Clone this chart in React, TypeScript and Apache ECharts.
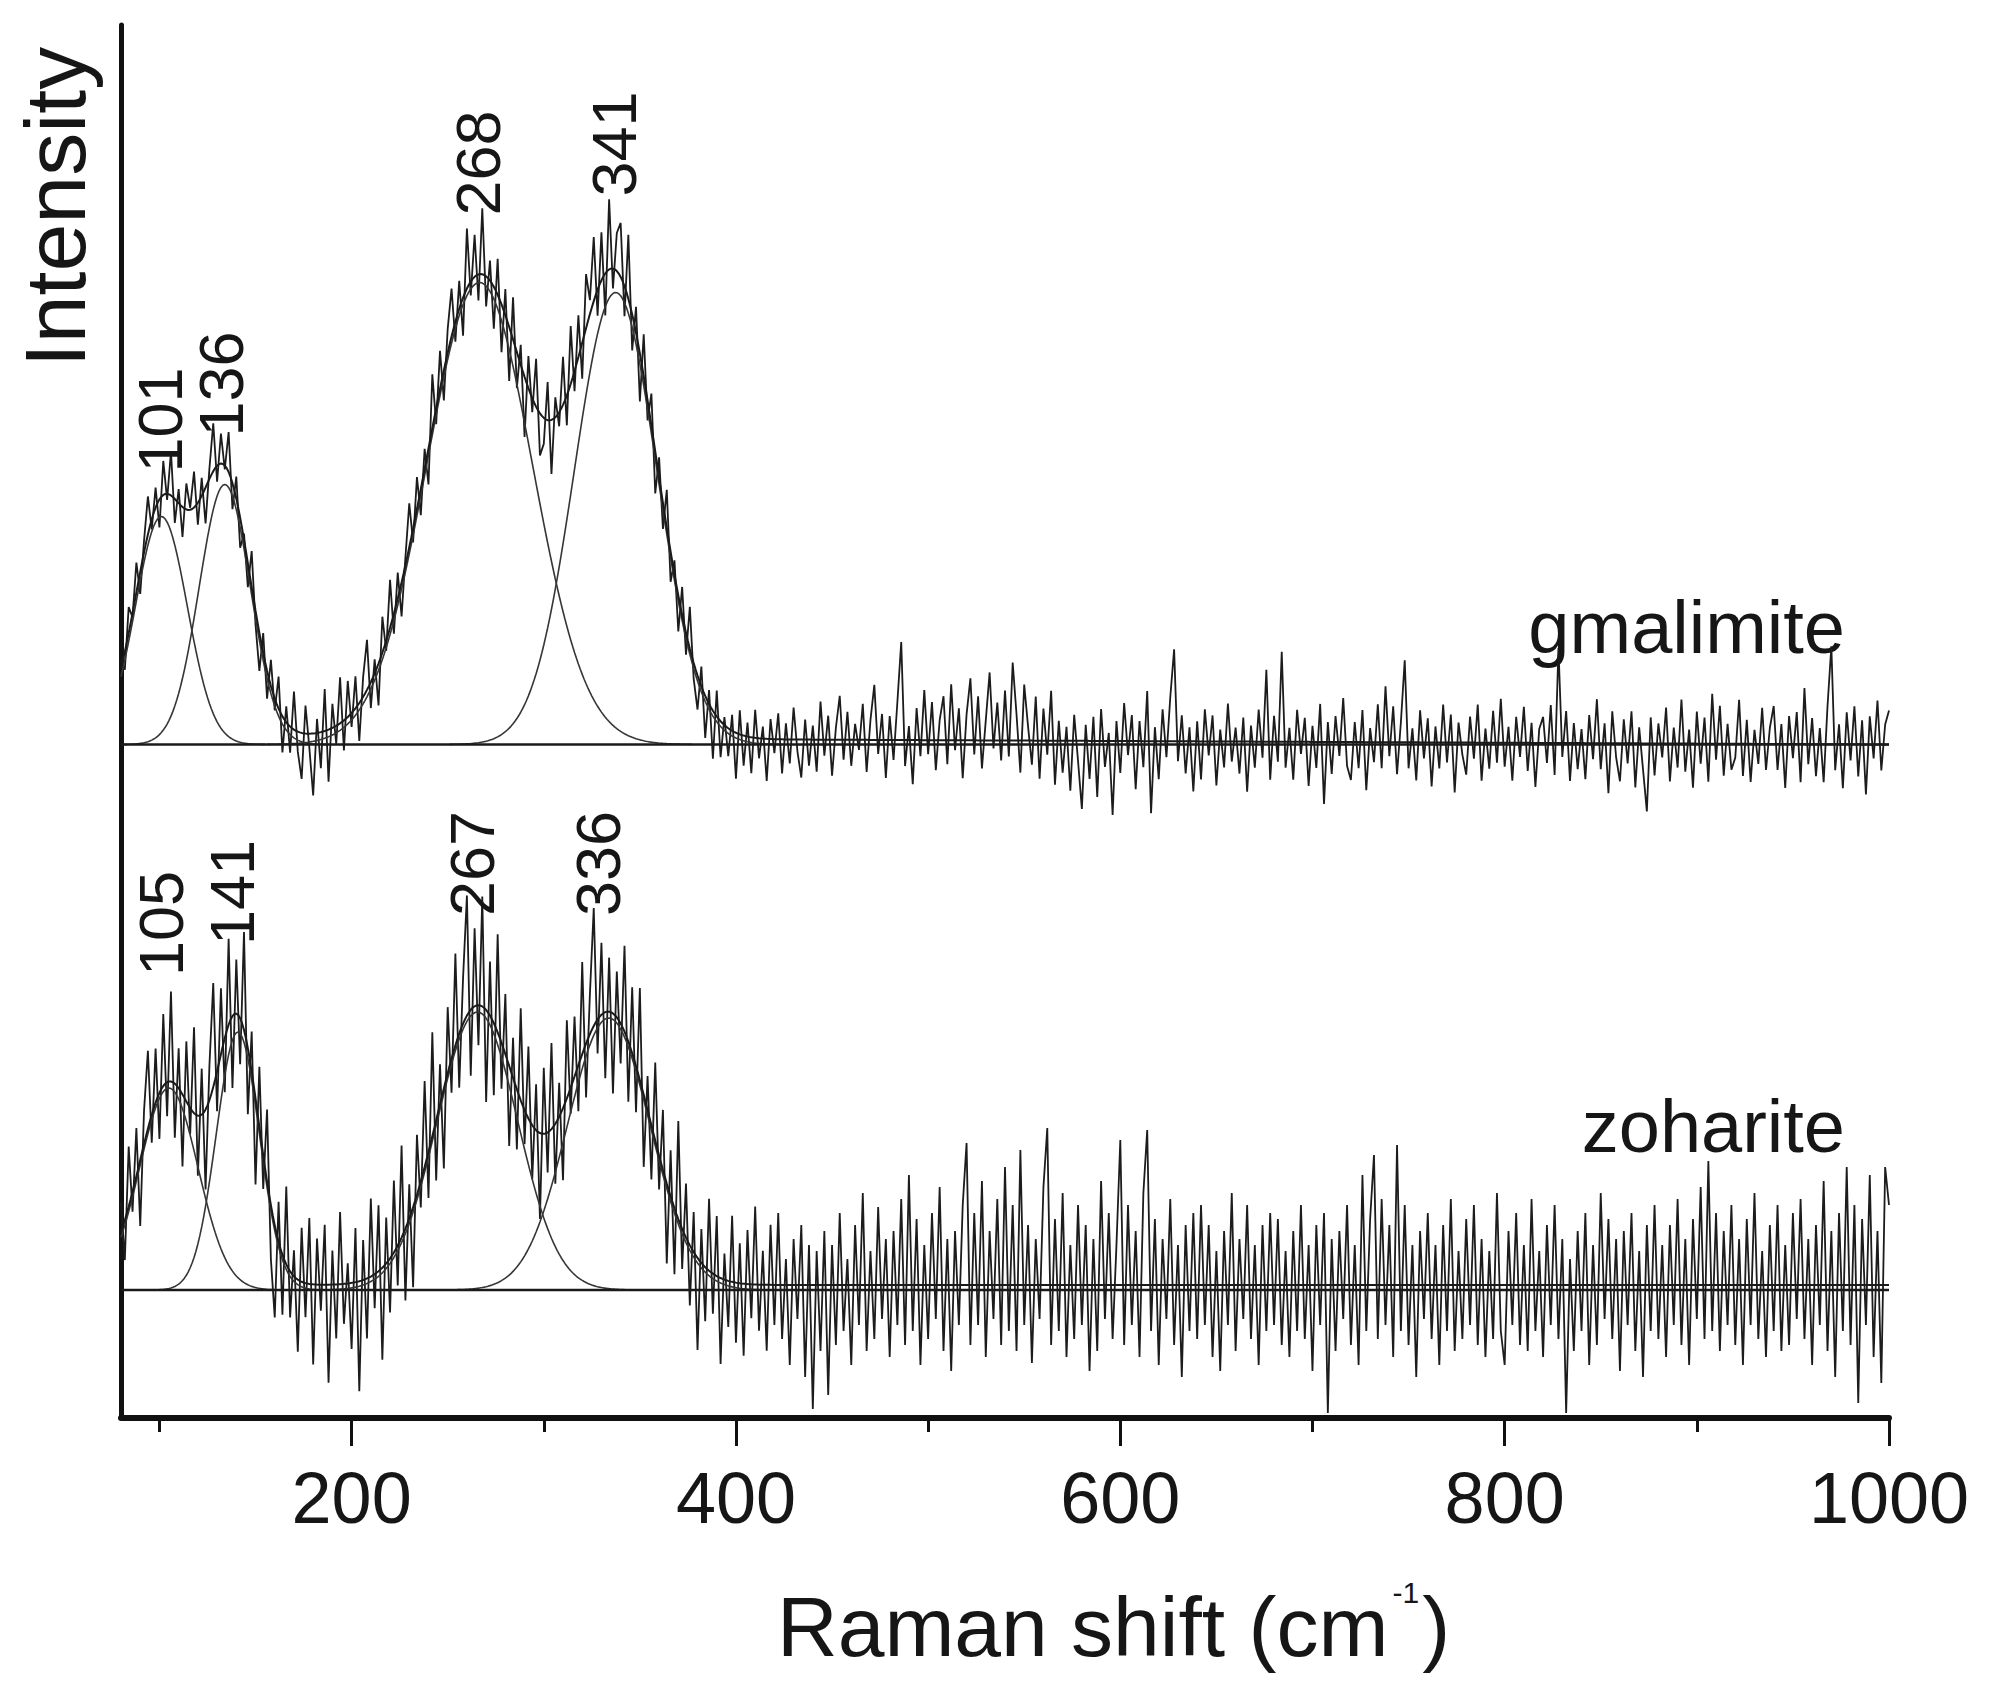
import React, { useEffect, useRef } from 'react';
import * as echarts from 'echarts';

// ---------- data ----------
const X_START = 80;
const X_END = 1000;
const RAW_STEP = 2;

const majorTickValues = [200, 400, 600, 800, 1000];
const minorTickValues = [100, 300, 500, 700, 900];

// gmalimite (upper spectrum): fitted Gaussian components
const gmalimiteCenters = [101, 134, 266.6, 337.4];
const gmalimiteAmplitudes = [228, 260, 462, 452];
const gmalimiteWidths = [13.5, 13.3, 27.5, 21.5];
const gmalimiteFitBaseline = [8, 0]; // at X_START, at X_END
const gmalimitePeakLabels = ['101', '136', '268', '341'];
const gmalimiteLabelX = [100.5, 132, 266, 336.3];
const gmalimiteLabelY = [272, 308, 529, 548];
// residual of measured spectrum around the cumulative fit, every 2 cm-1 from 80
const gmalimiteNoise = [
  8, -18, 26, -4, 30, -22, 12, 38, -10, 20,
  -28, 34, -6, 44, -24, 14, -30, 26, 2, 36,
  -22, 18, -36, 10, 48, -16, 30, -4, 40, -26,
  22, -30, 6, -24, 36, -14, -38, 20, -28, 26,
  -12, 32, -36, 16, -26, 38, -20, -46, 28, -14,
  -62, 14, -36, 42, -52, 24, -18, 46, -30, 36,
  -14, 32, -38, 20, 50, -26, 14, -42, 36, -10,
  48, -20, 26, -34, 8, 44, -14, 32, -26, 20,
  -36, 54, -16, 38, -30, 24, 48, -20, 28, -38,
  60, -14, 42, -26, 66, -30, 20, -42, 36, -48,
  26, -54, 42, -36, 20, -60, 32, -14, 48, -42,
  -26, 38, -54, 20, -14, 48, -30, 58, -20, 42,
  -36, 54, 14, 64, -26, 48, -42, 70, -20, 38,
  54, -30, 64, -36, 26, -48, 42, -20, 32, -42,
  20, -26, 38, -30, 14, -36, 28, -22, 42, -16,
  -34, 20, -42, 14, -48, 26, -36, 8, -28, 16,
  -46, 24, -30, 14, -36, 28, -20, 12, -42, 20,
  -14, 26, -34, 16, -24, 32, -12, -38, 20, -26,
  14, -32, 38, -16, 24, -36, 12, 44, -20, 28,
  -26, 16, -10, 36, -32, 20, 55, -14, 26, -38,
  24, -20, 38, 98, -26, 14, -44, 32, -16, 50,
  -14, 38, -30, 20, 44, -24, 56, -10, 32, -38,
  26, 62, -14, 44, -28, 20, 68, -8, 38, -20,
  50, -16, 78, 26, -32, 56, 14, -24, 44, -38,
  32, -14, 50, -44, 20, -32, 14, -50, 26, -20,
  -68, 16, -38, 24, -56, 32, -26, 8, -74, 20,
  -32, 38, -14, 26, -48, 20, -26, 50, -72, 14,
  -38, 32, -16, 44, 92, -20, 26, -32, 14, -50,
  20, -38, 32, -14, 26, -44, 12, -26, 38, -20,
  14, -32, 24, -50, 16, -26, 32, -16, 72, -38,
  26, -20, 90, -26, 14, -38, 32, -12, 24, -44,
  16, -26, 38, -62, 20, -32, 26, -14, 44, -24,
  -38, 20, -26, 32, -48, 14, -20, 38, -26, 56,
  -14, 36, -32, 20, 82, -26, 14, -38, 32, -16,
  24, -44, 16, -26, 38, -20, 28, -50, 20, -12,
  -32, 26, -16, 38, -38, 14, -26, 32, -20, 44,
  -24, 16, -38, 26, -14, 36, -28, 20, -44, 14,
  26, -20, 38, -32, 95, -14, 32, -38, 20, -26,
  14, -36, 28, -16, 44, -26, 20, -50, 32, -14,
  -38, 24, -20, 32, -44, 16, -26, -68, 26, -32,
  20, -14, 36, -38, 16, -24, 44, -28, 14, -44,
  32, -20, 26, -38, 50, -16, 38, -32, 20, -26,
  -14, 44, -32, 24, -38, 14, -20, 36, -26, 16,
  38, -26, 20, -44, 28, -14, 32, -38, 56, -20,
  26, -32, 16, -38, 38, 98, -26, 20, -44, 32,
  -16, 38, -32, 24, -50, 28, -14, 44, -26, 20,
  34,
];

// zoharite (lower spectrum)
const zohariteCenters = [104.9, 140.8, 265.5, 333.8];
const zohariteAmplitudes = [202, 258, 278, 272];
const zohariteWidths = [15.2, 11.2, 21, 21.5];
const zohariteFitBaseline = [5, 5];
const zoharitePeakLabels = ['105', '141', '267', '336'];
const zohariteLabelX = [101, 137.6, 262.4, 328.3];
const zohariteLabelY = [314, 345, 374, 374];
const zohariteNoise = [
  30, -40, 60, -20, 48, -66, 34, 78, -28, 54,
  -46, 72, -34, 90, -54, 40, -72, 60, -26, 86,
  -60, 46, -80, 34, 104, -40, 66, -54, 86, -72,
  54, -46, 98, -66, 40, -86, 60, -34, 72, -54,
  -92, 40, -60, 78, -46, 26, -72, 54, -34, 66,
  -80, 46, -26, 60, -98, 34, -54, 72, -40, 20,
  -66, 54, -110, 40, -60, 78, -34, 66, -92, 46,
  -54, 72, -40, 92, -72, 34, -80, 60, -26, 86,
  -46, 104, -60, 40, -80, 66, -34, 92, -54, 46,
  120, -66, 78, -40, 110, -92, 54, -72, 98, -46,
  60, -80, 40, -60, 92, -34, 72, -54, 46, -86,
  66, -40, 86, -60, 34, -72, 78, -26, 60, -46,
  92, -54, 40, 118, -34, 72, -66, 54, -80, 46,
  -40, 86, -60, 66, -46, 92, -72, 34, -54, 78,
  -34, 60, -80, 46, -66, 98, -40, 54, -60, 40,
  -92, 34, -54, 72, -40, 60, -86, 26, -46, 66,
  -60, 40, -72, 54, -34, 78, -46, 34, -66, 60,
  -40, 72, -54, 26, -80, 46, -34, 60, -92, 40,
  -124, 34, -66, 54, -110, 40, -60, 72, -46, 26,
  -80, 60, -40, 92, -66, 34, -54, 78, -34, 46,
  -72, 54, -40, 86, -60, 110, -46, 66, -80, 40,
  -54, 72, -34, 98, -66, 46, -86, 54, -40, 80,
  142, -60, 72, -40, 104, -72, 54, -34, 86, -60,
  118, -46, 80, -66, 135, -40, 60, -78, 46, -34,
  98, 157, -60, 66, -46, 92, -72, 40, -54, 80,
  -40, 60, -86, 46, -66, 104, -34, 72, -54, 40,
  145, -60, 80, -40, 54, -72, 92, 155, -46, 66,
  -80, 46, -34, 86, -60, 40, -92, 60, -46, 72,
  -54, 80, -40, 60, -72, 34, -86, 54, -40, 92,
  -66, 46, -34, 80, -54, 40, -80, 60, -46, 72,
  -40, 66, -60, 34, -72, 54, -46, 80, -54, 40,
  -86, 60, -40, 72, -128, 46, -66, 54, -34, 80,
  -60, 40, -80, 110, -46, 66, 130, -54, 86, -40,
  60, -72, 140, -46, 80, -60, 40, -92, 54, -34,
  72, -54, 40, -80, 60, -46, 86, -66, 34, -54,
  66, -40, 80, -60, 46, -72, 34, -54, 92, -46,
  -80, 54, -40, 72, -60, 40, -66, 86, -46, 34,
  -72, 60, -40, 80, -54, 46, -128, 26, -66, 54,
  -46, 72, -80, 40, -60, 92, -34, 66, -54, 46,
  -86, 54, -40, 72, -66, 34, -92, 60, -46, 80,
  -54, 40, -72, 60, -40, 86, -60, 46, -80, 66,
  -34, 98, -54, 124, -46, 72, -66, 54, -40, 80,
  -60, 46, -80, 66, -40, 92, -54, 34, -72, 60,
  -46, 80, -66, 40, -60, 72, -34, 86, -54, 46,
  -80, 60, -40, 104, -66, 54, -92, 72, -46, 118,
  -60, 80, -118, 66, -40, 110, -72, 54, -98, 118,
  80,
];

// ---------- helpers ----------
const FONT = '"Liberation Sans", Arial, Helvetica, sans-serif';
const TXT = '#161616';

type Spectrum = {
  centers: number[];
  amps: number[];
  widths: number[];
  fitBase: number[];
  noise: number[];
};

const gauss = (x: number, c: number, a: number, s: number) =>
  a * Math.exp(-((x - c) * (x - c)) / (2 * s * s));

const fitBaseAt = (sp: Spectrum, x: number) =>
  sp.fitBase[0] + ((sp.fitBase[1] - sp.fitBase[0]) * (x - X_START)) / (X_END - X_START);

const fitAt = (sp: Spectrum, x: number) => {
  let v = fitBaseAt(sp, x);
  for (let k = 0; k < sp.centers.length; k++) v += gauss(x, sp.centers[k], sp.amps[k], sp.widths[k]);
  return v;
};

function buildSeries(sp: Spectrum, idx: number, labels: string[], lx: number[], ly: number[]) {
  const out: any[] = [];
  const raw: number[][] = [];
  for (let i = 0; i < sp.noise.length; i++) {
    const x = X_START + i * RAW_STEP;
    if (x > X_END) break;
    raw.push([x, fitAt(sp, x) + sp.noise[i]]);
  }
  out.push({
    type: 'line', xAxisIndex: idx, yAxisIndex: idx, data: raw, showSymbol: false, symbol: 'none',
    lineStyle: { color: '#1c1c1c', width: 1.8 }, z: 2, silent: true,
  });
  for (let k = 0; k < sp.centers.length; k++) {
    const c = sp.centers[k], s = sp.widths[k];
    const pts: number[][] = [];
    const x0 = Math.max(X_START, Math.floor(c - 4 * s));
    const x1 = Math.min(X_END, Math.ceil(c + 4 * s));
    for (let x = x0; x <= x1; x++) pts.push([x, gauss(x, c, sp.amps[k], s)]);
    out.push({
      type: 'line', xAxisIndex: idx, yAxisIndex: idx, data: pts, showSymbol: false, symbol: 'none',
      lineStyle: { color: '#363636', width: 1.6 }, z: 3, silent: true,
    });
  }
  const fit: number[][] = [];
  for (let x = X_START; x <= X_END; x++) fit.push([x, fitAt(sp, x)]);
  out.push({
    type: 'line', xAxisIndex: idx, yAxisIndex: idx, data: fit, showSymbol: false, symbol: 'none',
    lineStyle: { color: '#1a1a1a', width: 2 }, z: 4, silent: true,
  });
  out.push({
    type: 'line', xAxisIndex: idx, yAxisIndex: idx, data: [[X_START, 0], [X_END, 0]],
    showSymbol: false, symbol: 'none', lineStyle: { color: '#1a1a1a', width: 2.5 }, z: 4, silent: true,
  });
  out.push({
    type: 'scatter', xAxisIndex: idx, yAxisIndex: idx, symbolSize: 0,
    itemStyle: { color: TXT }, silent: true, z: 6,
    data: labels.map((t, i) => ({ name: t, value: [lx[i], ly[i]] })),
    label: {
      show: true, formatter: '{b}', position: 'inside', rotate: 90, align: 'left',
      verticalAlign: 'middle', fontSize: 63, fontFamily: FONT, color: TXT,
      textBorderWidth: 0, opacity: 1,
    },
  });
  return out;
}

export default function App() {
  const ref = useRef<HTMLDivElement>(null);
  useEffect(() => {
    document.body.style.margin = '0';
    if (!ref.current) return;
    const chart = echarts.init(ref.current, undefined, { renderer: 'svg' });
    const upper: Spectrum = {
      centers: gmalimiteCenters, amps: gmalimiteAmplitudes, widths: gmalimiteWidths,
      fitBase: gmalimiteFitBaseline, noise: gmalimiteNoise,
    };
    const lower: Spectrum = {
      centers: zohariteCenters, amps: zohariteAmplitudes, widths: zohariteWidths,
      fitBase: zohariteFitBaseline, noise: zohariteNoise,
    };
    const gridRect = { left: 121, top: 25, width: 1768, height: 1393 };
    const upperBase = 744.5; // pixel row of upper baseline
    const lowerBase = 1290;
    const plotTop = gridRect.top;
    const plotBottom = gridRect.top + gridRect.height;
    const option: any = {
      animation: false,
      backgroundColor: '#ffffff',
      grid: [{ ...gridRect }, { ...gridRect }, { ...gridRect }],
      xAxis: [
        { type: 'value', gridIndex: 0, min: X_START, max: X_END, show: false },
        {
          type: 'value', gridIndex: 1, min: X_START, max: X_END, position: 'bottom',
          axisLine: { show: true, onZero: false, lineStyle: { color: '#111', width: 6 } },
          axisTick: { show: true, customValues: majorTickValues, length: 28, lineStyle: { color: '#111', width: 3 } },
          axisLabel: {
            show: true, customValues: majorTickValues, margin: 44, fontSize: 72, fontFamily: FONT, color: TXT,
            formatter: (v: number) => String(v),
          },
          splitLine: { show: false },
        },
        {
          type: 'value', gridIndex: 2, min: X_START, max: X_END, position: 'bottom',
          axisLine: { show: false, onZero: false },
          axisTick: { show: true, customValues: minorTickValues, length: 14, lineStyle: { color: '#111', width: 3 } },
          axisLabel: { show: false },
          splitLine: { show: false },
        },
      ],
      yAxis: [
        {
          type: 'value', gridIndex: 0, min: -(plotBottom - upperBase), max: upperBase - plotTop,
          axisLine: { show: true, onZero: false, lineStyle: { color: '#111', width: 5 } },
          axisTick: { show: false }, axisLabel: { show: false }, splitLine: { show: false },
        },
        {
          type: 'value', gridIndex: 1, min: -(plotBottom - lowerBase), max: lowerBase - plotTop,
          axisLine: { show: false }, axisTick: { show: false }, axisLabel: { show: false }, splitLine: { show: false },
        },
        {
          type: 'value', gridIndex: 2, min: 0, max: 1, show: false,
        },
      ],
      series: [
        ...buildSeries(upper, 0, gmalimitePeakLabels, gmalimiteLabelX, gmalimiteLabelY),
        ...buildSeries(lower, 1, zoharitePeakLabels, zohariteLabelX, zohariteLabelY),
      ],
      graphic: [
        {
          type: 'text', x: 55, y: 207, rotation: Math.PI / 2,
          style: {
            text: 'Intensity', fontSize: 86, fontFamily: FONT, fill: TXT,
            align: 'center', verticalAlign: 'middle', textAlign: 'center', textVerticalAlign: 'middle',
          },
        },
        {
          type: 'text', x: 777, y: 1627,
          style: {
            text: '{m|Raman shift (cm}{s|-1}{m|)}',
            fontSize: 84, fontFamily: FONT, fill: TXT,
            align: 'left', verticalAlign: 'middle', textAlign: 'left', textVerticalAlign: 'middle',
            rich: {
              m: { fontSize: 84, fontFamily: FONT, fill: TXT, lineHeight: 100 },
              s: { fontSize: 30, fontFamily: FONT, fill: TXT, verticalAlign: 'top', lineHeight: 30, padding: [0, 3, 0, 4] },
            },
          },
        },
        {
          type: 'text', x: 1845, y: 627,
          style: {
            text: 'gmalimite', fontSize: 74, fontFamily: FONT, fill: TXT,
            align: 'right', verticalAlign: 'middle', textAlign: 'right', textVerticalAlign: 'middle',
          },
        },
        {
          type: 'text', x: 1845, y: 1126,
          style: {
            text: 'zoharite', fontSize: 74, fontFamily: FONT, fill: TXT,
            align: 'right', verticalAlign: 'middle', textAlign: 'right', textVerticalAlign: 'middle',
          },
        },
      ],
    };
    chart.setOption(option);
    return () => chart.dispose();
  }, []);
  return <div ref={ref} style={{ width: 1992, height: 1688 }} />;
}
